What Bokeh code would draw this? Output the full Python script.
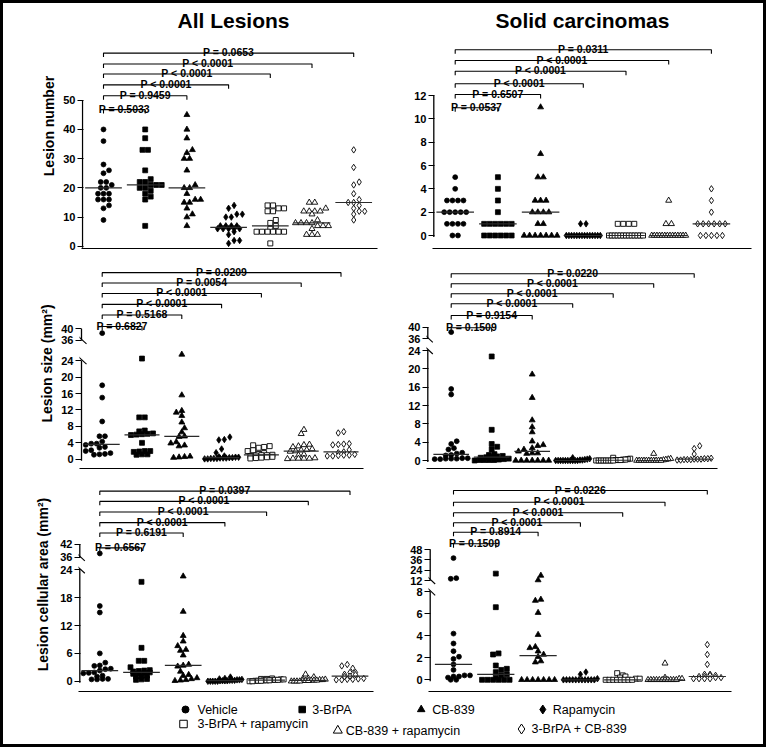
import numpy as np
from bokeh.plotting import figure
from bokeh.layouts import column, row
from bokeh.models import FixedTicker, Range1d
from bokeh.embed import file_html
from bokeh.resources import INLINE
from bokeh.core.properties import value

FONT = "Liberation Sans"

groups = ["Vehicle", "3-BrPA", "CB-839", "Rapamycin",
          "3-BrPA + rapamycin", "CB-839 + rapamycin", "3-BrPA + CB-839"]
markers = ["circle", "square", "triangle", "diamond", "square", "triangle", "diamond"]
filled = [True, True, True, True, False, False, False]

# ---- data ----
all_number = [
    [40, 36, 28, 26, 25, 22, 22, 21, 20, 20, 18, 18, 18, 16, 16, 16, 14, 13, 9],
    [40, 37, 33, 33, 26, 23, 22, 22, 21, 21, 21, 20, 20, 19, 18, 17, 16, 7],
    [45, 40, 37, 33, 32, 30, 30, 26, 21, 20, 20, 18, 16, 16, 15, 15, 13, 11, 10, 7],
    [14, 13, 11, 11, 10, 10, 7, 7, 7, 7, 6, 6, 6, 6, 6, 5, 4, 2, 2, 1],
    [14, 14, 13, 13, 12, 12, 9, 8, 7, 6, 5, 5, 5, 5, 5, 5, 1],
    [15, 15, 13, 12, 12, 12, 12, 11, 9, 8, 8, 8, 8, 7, 7, 7, 6, 4, 4, 4],
    [33, 27, 22, 21, 18, 16, 15, 15, 14, 13, 12, 12, 11, 9],
]
sc_number = [
    [5, 4, 3, 3, 3, 3, 2, 2, 2, 2, 2, 1, 1, 1, 1, 0, 0],
    [5, 4, 3, 2, 1, 1, 1, 1, 1, 1, 0, 0, 0, 0, 0, 0],
    [11, 7, 5, 5, 3, 3, 3, 2, 2, 2, 2, 1, 1, 0, 0, 0, 0, 0, 0, 0],
    [1, 1, 0, 0, 0, 0, 0, 0, 0, 0, 0, 0, 0, 0, 0, 0],
    [1, 1, 1, 1, 0, 0, 0, 0, 0, 0, 0, 0, 0, 0, 0, 0, 0],
    [3, 1, 1, 0, 0, 0, 0, 0, 0, 0, 0, 0, 0, 0, 0, 0, 0],
    [4, 3, 2, 1, 1, 1, 1, 1, 1, 0, 0, 0, 0, 0],
]
all_size = [
    [38.5, 18, 15, 9.2, 5.6, 5.6, 4.3, 3.8, 3.8, 3.5, 3.0, 2.8, 2.2, 2.0, 1.5, 1.3, 1.2, 1.1],
    [24.5, 10.2, 10.2, 7.0, 6.8, 6.3, 6.2, 6.1, 6.0, 5.9, 4.0, 2.0, 2.0, 1.9, 1.8, 1.2, 1.2, 1.1],
    [25.5, 15.6, 11.8, 11.4, 10.6, 9.0, 7.6, 6.6, 5.6, 5.5, 4.2, 3.9, 3.4, 3.2, 0.7, 0.6, 0.5, 0.4],
    [5.4, 4.8, 4.7, 2.5, 1.6, 0.8, 0.6, 0.5, 0.5, 0.4, 0.4, 0.3, 0.3, 0.3, 0.2, 0.2, 0.2, 0.1, 0.1],
    [3.4, 3.2, 3.0, 2.8, 2.2, 2.0, 1.5, 1.3, 1.1, 1.0, 1.0, 0.9, 0.8, 0.6, 0.5, 0.4, 0.3, 0.2],
    [7.2, 6.2, 3.6, 3.5, 3.2, 3.0, 2.5, 2.3, 2.2, 2.0, 1.9, 1.2, 1.0, 0.3, 0.2, 0.2, 0.2, 0.2, 0.1],
    [6.7, 6.4, 3.8, 3.7, 3.6, 3.5, 2.3, 1.8, 1.6, 1.2, 1.0, 1.0, 0.9, 0.8, 0.8],
]
sc_size = [
    [38.3, 15.6, 14.4, 4.2, 3.6, 2.7, 2.4, 1.7, 1.5, 1.2, 1.1, 0.5, 0.5, 0.4, 0.4, 0.4, 0.3, 0.3],
    [22.7, 6.7, 3.6, 3.0, 2.4, 1.4, 1.2, 1.0, 0.9, 0.8, 0.7, 0.6, 0.4, 0.3, 0.2, 0.1, 0.1, 0.1, 0.1, 0.0],
    [18.8, 13.7, 8.8, 7.3, 6.2, 4.2, 3.4, 3.2, 2.7, 2.4, 2.0, 1.6, 1.6, 1.5, 0, 0, 0, 0, 0, 0, 0],
    [0.6, 0.4, 0.3, 0.2, 0.1, 0.1, 0, 0, 0, 0, 0, 0, 0, 0, 0, 0],
    [0.6, 0.4, 0.3, 0.2, 0.2, 0.1, 0.1, 0.1, 0, 0, 0, 0, 0, 0, 0, 0],
    [1.5, 0.4, 0.3, 0.2, 0.1, 0, 0, 0, 0, 0, 0, 0, 0, 0, 0, 0],
    [3.2, 2.6, 1.4, 0.5, 0.4, 0.4, 0.3, 0.3, 0.3, 0.2, 0.2, 0.2, 0.1, 0.1],
]
all_area = [
    [37.8, 16.2, 14.8, 6.0, 4.0, 3.4, 3.3, 2.7, 2.6, 2.3, 1.9, 1.8, 1.7, 1.2, 1.0, 0.5, 0.5, 0.4, 0.4],
    [21.4, 7.2, 4.4, 4.4, 3.0, 2.4, 2.3, 2.2, 2.1, 1.9, 1.8, 1.7, 1.6, 1.2, 1.1, 1.0, 0.5, 0.4, 0.3],
    [22.6, 15.0, 9.8, 8.6, 7.6, 6.8, 6.6, 5.6, 3.6, 3.4, 3.2, 2.1, 1.4, 1.2, 0.7, 0.5, 0.3, 0.2, 0.1],
    [0.9, 0.6, 0.5, 0.4, 0.3, 0.3, 0.2, 0.2, 0.2, 0.1, 0.1, 0.1, 0.1, 0.0, 0.0, 0.0, 0.0, 0.0],
    [0.6, 0.5, 0.5, 0.4, 0.4, 0.3, 0.3, 0.3, 0.2, 0.2, 0.2, 0.1, 0.1, 0.1, 0.0, 0.0],
    [1.5, 0.9, 0.6, 0.5, 0.4, 0.3, 0.3, 0.2, 0.2, 0.2, 0.1, 0.1, 0.1, 0.0, 0.0, 0.0, 0.0],
    [3.6, 3.3, 2.8, 1.9, 1.9, 1.5, 1.4, 1.1, 1.0, 0.6, 0.5, 0.4, 0.4, 0.3, 0.3],
]
sc_area = [
    [38.0, 14.7, 14.0, 4.2, 3.3, 2.6, 2.1, 1.9, 1.4, 0.9, 0.4, 0.4, 0.3, 0.3, 0.2, 0.0, 0.0],
    [20.0, 6.6, 2.4, 2.3, 1.3, 1.0, 0.9, 0.7, 0.5, 0.4, 0.2, 0.0, 0.0, 0.0, 0.0, 0.0, 0.0],
    [17.8, 12.5, 7.3, 7.2, 6.1, 4.1, 3.0, 2.9, 2.6, 2.3, 2.1, 1.7, 1.6, 0, 0, 0, 0, 0, 0, 0],
    [0.7, 0.5, 0.1, 0, 0, 0, 0, 0, 0, 0, 0, 0, 0, 0],
    [0.6, 0.4, 0.3, 0.2, 0.1, 0.1, 0, 0, 0, 0, 0, 0, 0, 0],
    [1.5, 0.2, 0.1, 0.1, 0, 0, 0, 0, 0, 0, 0, 0, 0, 0, 0],
    [3.2, 2.3, 1.4, 0.5, 0.5, 0.4, 0.4, 0.3, 0.3, 0.2, 0.2, 0.1, 0.1, 0.1, 0.1],
]

p_all_number = ["P = 0.5033", "P = 0.9459", "P < 0.0001", "P < 0.0001", "P < 0.0001", "P = 0.0653"]
p_sc_number = ["P = 0.0537", "P = 0.6507", "P < 0.0001", "P < 0.0001", "P < 0.0001", "P = 0.0311"]
p_all_size = ["P = 0.6827", "P = 0.5168", "P < 0.0001", "P < 0.0001", "P = 0.0054", "P = 0.0209"]
p_sc_size = ["P = 0.1509", "P = 0.9154", "P < 0.0001", "P < 0.0001", "P < 0.0001", "P = 0.0220"]
p_all_area = ["P = 0.6567", "P = 0.6191", "P < 0.0001", "P < 0.0001", "P < 0.0001", "P = 0.0397"]
p_sc_area = ["P = 0.1509", "P = 0.8914", "P < 0.0001", "P < 0.0001", "P < 0.0001", "P = 0.0226"]

ticks_number_all = [0, 10, 20, 30, 40, 50]
ticks_number_sc = [0, 2, 4, 6, 8, 10, 12]
ticks_size = [0, 4, 8, 12, 16, 20, 24, 36, 40]
ticks_area_all = [0, 6, 12, 18, 24, 36, 42]
ticks_area_sc = [0, 2, 4, 6, 8, 12, 24, 36, 48]


def make_T(zero_y, segs):
    def lin(seg, v):
        v0, v1, y0, y1 = seg
        return zero_y - (y0 + (v - v0) * (y1 - y0) / (v1 - v0))

    def T(v):
        for i, seg in enumerate(segs):
            if v <= seg[1] or i == len(segs) - 1:
                if i > 0 and v < seg[0]:
                    prev = segs[i - 1]
                    if v - prev[1] < seg[0] - v:
                        return lin(prev, v)  # just above the lower part
                    return lin(seg, v)
                return lin(seg, v)
    return T


def swarm(ds, w=5.5, maxw=34.0):
    order = sorted(range(len(ds)), key=lambda i: ds[i])
    rows = []
    for i in order:
        if rows and ds[i] - ds[rows[-1][0]] < 2.0:
            rows[-1].append(i)
        else:
            rows.append([i])
    xs = [0.0] * len(ds)
    placed = []
    for r in rows:
        n = len(r)
        s = w if n == 1 else min(w, maxw / (n - 1))
        base = [(k - (n - 1) / 2) * s for k in range(n)]
        shifts = [0.0]
        for m in range(1, 14):
            shifts += [m * w / 2, -m * w / 2]
        chosen = 0.0
        for c in shifts:
            if abs(c) + (n - 1) * s / 2 > maxw / 2:
                continue
            ok = True
            for k in range(n):
                for (j, px) in placed:
                    if (ds[j] - ds[r[k]]) ** 2 + (px - (base[k] + c)) ** 2 < (0.85 * w) ** 2:
                        ok = False
                        break
                if not ok:
                    break
            if ok:
                chosen = c
                break
        for k, i in enumerate(r):
            xs[i] = base[k] + chosen
            placed.append((i, xs[i]))
    return xs


msize = [4.9, 4.9, 5.9, 6.5, 5.0, 6.0, 6.4]


def panel(cfg):
    fl, fr, ft, fb = cfg["box"]
    W, H = int(fr - fl), int(fb - ft)
    ax, xe_ref, xa, zy = cfg["axis_x"], cfg["x_end"], cfg["xaxis_y"], cfg["zero_y"]
    g1, sp = cfg["g1"], cfg["sp"]
    frame_l = ax - 1.5
    bl = round(frame_l - fl)
    fw = round(xe_ref - frame_l)
    br = W - bl - fw
    bb = round(fb - xa)
    T = make_T(zy, cfg["segs"])
    x0 = 1 - (g1 - (fl + bl)) / sp
    x1 = x0 + fw / sp
    xax = 1 - (g1 - ax) / sp
    y0 = zy - (fb - bb)
    y1 = zy - ft
    p = figure(width=W, height=H, x_range=Range1d(x0, x1), y_range=Range1d(y0, y1),
               min_border_left=bl, min_border_right=br, min_border_top=0, min_border_bottom=bb,
               output_backend="svg", toolbar_location=None, outline_line_color=None)
    p.grid.visible = False
    # x axis: plain line
    p.xaxis.ticker = FixedTicker(ticks=[])
    p.xaxis.major_label_text_font_size = "0px"
    p.xaxis.major_tick_line_color = None
    p.xaxis.minor_tick_line_color = None
    p.xaxis.major_label_standoff = 0
    p.xaxis.axis_line_color = "black"
    p.xaxis.axis_line_width = 1.2
    # y axis (ticks + labels; the line is drawn per segment below)
    segs = cfg["segs"]
    ticks = cfg["ticks"]
    tpos = [round(T(t), 2) for t in ticks]
    top = T(segs[-1][1])
    p.yaxis.ticker = FixedTicker(ticks=tpos)
    p.yaxis.bounds = (T(0) - 1.5, top)
    p.yaxis.major_label_overrides = {tp: str(t) for tp, t in zip(tpos, ticks)}
    p.yaxis.major_tick_in = 2
    p.yaxis.major_tick_out = 4
    p.yaxis.major_tick_line_width = 1.2
    p.yaxis.major_tick_line_color = "black"
    p.yaxis.minor_tick_line_color = None
    p.yaxis.axis_line_color = None
    p.yaxis.major_label_standoff = 2
    p.yaxis.major_label_text_font = FONT
    p.yaxis.major_label_text_font_style = "bold"
    p.yaxis.major_label_text_font_size = "11px"
    p.yaxis.major_label_text_color = "black"
    if cfg.get("ylabel"):
        p.yaxis.axis_label = cfg["ylabel"]
        p.yaxis.axis_label_text_font = FONT
        p.yaxis.axis_label_text_font_style = "bold"
        p.yaxis.axis_label_text_font_size = "14px"
        p.yaxis.axis_label_text_color = "black"
        p.yaxis.axis_label_standoff = cfg.get("ylabel_standoff", 3)
    for i, (v0, v1, _, _) in enumerate(segs):
        lo = T(v0) - (1.5 if i == 0 else 0)
        p.line(x=[xax, xax], y=[lo, T(v1)], line_color="black", line_width=1.3)
    for i in range(len(segs) - 1):
        for d in (T(segs[i][1]), T(segs[i + 1][0])):
            p.line(x=[xax - 3 / sp, xax + 5 / sp], y=[d + 4, d - 3.5],
                   line_color="black", line_width=1.1)
    # data
    data = cfg["data"]
    for gi, vals in enumerate(data):
        ds = [T(v) for v in vals]
        offs = swarm(ds)
        xs = [gi + 1 + o / sp for o in offs]
        p.scatter(x=xs, y=ds, marker=markers[gi], size=msize[gi],
                  fill_color="black" if filled[gi] else "white",
                  line_color="black", line_width=0.8 if filled[gi] else 0.9)
        med = T(float(np.median(vals)))
        p.line(x=[gi + 1 - 0.44, gi + 1 + 0.44], y=[med, med],
               line_color="#2a2a2a", line_width=1.2)
    # brackets
    levels = cfg["brackets"]
    bx, by, tx, ty = [], [], [], []
    for k, L in zip(range(2, 9), levels):
        D = zy - L
        bx.append([1, 1, k, k])
        by.append([D - 4, D, D, D - 4])
        tx.append((1 + k) / 2)
        ty.append(D + 1)
    p.multi_line(xs=bx, ys=by, line_color="black", line_width=1.1)
    p.text(x=tx, y=ty, text=cfg["pvals"], text_font=value(FONT), text_font_style="bold",
           text_font_size="10.5px", text_align="center", text_baseline="alphabetic",
           text_color="black")
    if cfg.get("title"):
        cx, cy = cfg["title_pos"]
        p.text(x=[1 + (cx - g1) / sp], y=[zy - cy], text=[cfg["title"]], text_font=value(FONT),
               text_font_style="bold", text_font_size="21px", text_align="center",
               text_baseline="middle", text_color="black")
    return p


p1 = panel(dict(box=(3, 383, 3, 258), axis_x=82, x_end=377, xaxis_y=249.5,
                zero_y=247.8, segs=[(0, 50, 247.8, 100.5)], ticks=ticks_number_all,
                g1=103, sp=41.7, brackets=[110, 96, 85, 74, 64, 53], pvals=p_all_number,
                data=all_number, ylabel="Lesion number",
                title="All Lesions", title_pos=(233, 20)))
p2 = panel(dict(box=(383, 763, 3, 258), axis_x=433.3, x_end=751, xaxis_y=248,
                zero_y=235, segs=[(0, 12, 235, 95)], ticks=ticks_number_sc,
                g1=454.7, sp=42.7, brackets=[107.3, 94, 83.3, 70.7, 60, 49.3], pvals=p_sc_number,
                data=sc_number, title="Solid carcinomas", title_pos=(582, 20)))
p3 = panel(dict(box=(3, 383, 258, 477), axis_x=81, x_end=363, xaxis_y=470,
                zero_y=460.7, segs=[(0, 24, 460.7, 361.1), (36, 40, 340.7, 329)], ticks=ticks_size,
                g1=101.7, sp=39.8, brackets=[326.7, 315, 304.3, 293.3, 282.7, 272.3], pvals=p_all_size,
                data=all_size, ylabel="Lesion size (mm\u00b2)"))
p4 = panel(dict(box=(383, 763, 258, 477), axis_x=427.3, x_end=717, xaxis_y=468.3,
                zero_y=460, segs=[(0, 24, 460, 350), (36, 40, 338.3, 326.7)], ticks=ticks_size,
                g1=450.7, sp=40.5, brackets=[327.3, 315, 303.3, 293.3, 283.3, 273.3], pvals=p_sc_size,
                data=sc_size))
p5 = panel(dict(box=(3, 383, 477, 697), axis_x=79.3, x_end=373, xaxis_y=691.7,
                zero_y=681.7, segs=[(0, 24, 681.7, 569.7), (36, 42, 557.3, 544)], ticks=ticks_area_all,
                g1=99.3, sp=41.7, brackets=[547.7, 532.7, 522.3, 511.7, 501, 490.7], pvals=p_all_area,
                data=all_area, ylabel="Lesion cellular area (mm\u00b2)", ylabel_standoff=6))
p6 = panel(dict(box=(383, 763, 477, 697), axis_x=429.7, x_end=730.7, xaxis_y=690.7,
                zero_y=679.3, segs=[(0, 8, 679.3, 591.3), (12, 48, 580, 549)], ticks=ticks_area_sc,
                g1=453, sp=42.3, brackets=[543.3, 531.7, 522.3, 512.3, 501.7, 490], pvals=p_sc_area,
                data=sc_area))

# legend
lg = figure(width=760, height=47, x_range=Range1d(3, 763), y_range=Range1d(744, 697),
            min_border=0, output_backend="svg", toolbar_location=None, outline_line_color=None,
            x_axis_type=None, y_axis_type=None)
lg.grid.visible = False
leg_pos = [(185, 709), (301.7, 709), (420.7, 709), (542.3, 709),
           (183, 723.5), (337.3, 730), (521, 728.5)]
leg_gap = [12, 10, 11, 10, 14, 8, 10]
leg_size = [7, 6.5, 7.5, 9, 7.5, 9, 10]
for gi in range(7):
    mx, my = leg_pos[gi]
    lg.scatter(x=[mx], y=[my], marker=markers[gi], size=leg_size[gi],
               fill_color="black" if filled[gi] else "white", line_color="black", line_width=1)
    lg.text(x=[mx + leg_gap[gi]], y=[my], text=[groups[gi]], text_font=value(FONT),
            text_font_size="12.5px", text_align="left", text_baseline="middle", text_color="black")

layout = column(row(p1, p2), row(p3, p4), row(p5, p6), lg,
                styles={"border": "3px solid black"})

open("out.html", "w").write(file_html(layout, INLINE))
